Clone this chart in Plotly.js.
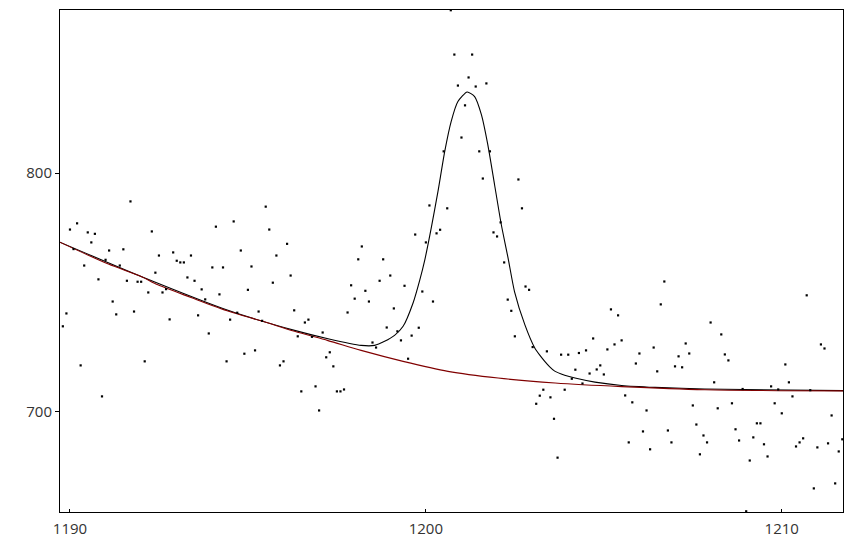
<!DOCTYPE html>
<html>
<head>
<meta charset="utf-8">
<script src="https://cdn.plot.ly/plotly-3.0.1.min.js"></script>
<style>html,body{margin:0;padding:0;background:#fff;}#chart{width:853px;height:540px;}</style>
</head>
<body>
<div id="chart"></div>
<script>
// Measured spectrum points (x, counts)
const xs = [
1189.7,1189.8,1189.9,1190.0,1190.1,1190.2,1190.3,1190.4,1190.5,1190.6,
1190.7,1190.8,1190.9,1191.0,1191.1,1191.2,1191.3,1191.4,1191.5,1191.6,
1191.7,1191.8,1191.9,1192.0,1192.1,1192.2,1192.3,1192.4,1192.5,1192.6,
1192.7,1192.8,1192.9,1193.0,1193.1,1193.2,1193.3,1193.4,1193.5,1193.6,
1193.7,1193.8,1193.9,1194.0,1194.1,1194.2,1194.3,1194.4,1194.5,1194.6,
1194.7,1194.8,1194.9,1195.0,1195.1,1195.2,1195.3,1195.4,1195.5,1195.6,
1195.7,1195.8,1195.9,1196.0,1196.1,1196.2,1196.3,1196.4,1196.5,1196.6,
1196.7,1196.8,1196.9,1197.0,1197.1,1197.2,1197.3,1197.4,1197.5,1197.6,
1197.7,1197.8,1197.9,1198.0,1198.1,1198.2,1198.3,1198.4,1198.5,1198.6,
1198.7,1198.8,1198.9,1199.0,1199.1,1199.2,1199.3,1199.4,1199.5,1199.6,
1199.7,1199.8,1199.9,1200.0,1200.1,1200.2,1200.3,1200.4,1200.5,1200.6,
1200.7,1200.8,1200.9,1201.0,1201.1,1201.2,1201.3,1201.4,1201.5,1201.6,
1201.7,1201.8,1201.9,1202.0,1202.1,1202.2,1202.3,1202.4,1202.5,1202.6,
1202.7,1202.8,1202.9,1203.0,1203.1,1203.2,1203.3,1203.4,1203.5,1203.6,
1203.7,1203.8,1203.9,1204.0,1204.1,1204.2,1204.3,1204.4,1204.5,1204.6,
1204.7,1204.8,1204.9,1205.0,1205.1,1205.2,1205.3,1205.4,1205.5,1205.6,
1205.7,1205.8,1205.9,1206.0,1206.1,1206.2,1206.3,1206.4,1206.5,1206.6,
1206.7,1206.8,1206.9,1207.0,1207.1,1207.2,1207.3,1207.4,1207.5,1207.6,
1207.7,1207.8,1207.9,1208.0,1208.1,1208.2,1208.3,1208.4,1208.5,1208.6,
1208.7,1208.8,1208.9,1209.0,1209.1,1209.2,1209.3,1209.4,1209.5,1209.6,
1209.7,1209.8,1209.9,1210.0,1210.1,1210.2,1210.3,1210.4,1210.5,1210.6,
1210.7,1210.8,1210.9,1211.0,1211.1,1211.2,1211.3,1211.4,1211.5,1211.6,
1211.7
];
const ys = [
727.7,735.7,741.1,776.3,768.1,778.9,719.3,761.2,775.1,770.9,
774.5,755.4,706.3,763.6,767.5,746.1,740.7,761.2,768.0,754.8,
788.1,741.9,754.4,754.4,721.0,749.9,775.5,758.2,765.4,749.9,
751.3,738.6,766.7,763.2,762.5,762.5,756.2,765.4,754.8,740.3,
751.2,747.0,732.7,760.4,777.5,749.1,760.4,721.0,738.5,779.7,
741.4,767.5,724.2,751.0,760.8,725.6,741.9,738.0,785.9,776.3,
754.0,765.4,719.3,721.0,770.3,757.0,742.4,731.5,708.4,737.3,
738.5,731.3,710.5,700.4,733.1,722.7,724.8,718.9,708.4,708.4,
709.2,741.5,752.9,747.3,763.8,769.2,750.6,746.1,728.9,726.8,
754.8,763.8,735.2,757.0,743.2,733.6,729.8,752.7,722.1,731.8,
774.2,735.1,750.3,770.9,786.4,746.1,774.7,776.2,809.1,785.2,
868.3,849.7,836.7,814.9,828.4,840.1,849.7,836.3,809.1,797.7,
837.6,809.1,775.1,773.4,779.3,762.5,746.9,742.2,731.5,797.3,
785.2,752.4,751.0,727.0,703.2,706.6,709.1,725.2,705.9,696.9,
680.6,723.8,709.1,723.8,713.7,717.5,724.5,711.7,725.6,715.9,
730.6,717.6,719.3,715.5,726.0,742.8,728.1,740.3,729.8,706.7,
687.0,703.8,720.1,724.3,691.6,700.4,684.1,726.8,716.8,744.9,
754.5,692.0,687.0,718.9,723.1,718.5,728.5,724.3,702.5,694.5,
682.0,689.9,687.0,737.3,712.2,701.3,732.3,723.9,721.4,703.4,
692.5,687.8,709.4,658.1,679.4,689.1,695.0,695.0,686.2,681.1,
710.5,703.4,709.2,699.2,719.7,712.2,706.3,685.3,687.0,688.7,
748.7,708.9,667.7,684.9,728.1,726.4,686.6,698.3,669.8,683.2,
688.3
];

// Background (baseline) curve
const baseX = [1189.70,1191.08,1192.00,1192.47,1193.40,1194.48,1195.37,1196.31,1197.25,1198.18,1199.36,1200.62,1202.03,1203.63,1205.50,1207.84,1211.73];
const baseY = [771.1,761.8,756.6,753.1,747.8,741.9,738.0,733.6,729.7,725.6,721.0,716.8,714.0,711.9,710.4,709.1,708.6];

// Fitted curve (baseline + peak)
const fitX = [1189.70,1192.00,1194.48,1196.31,1197.25,1198.18,1198.56,1198.84,1199.12,1199.36,1199.64,1199.83,1199.97,1200.15,1200.34,1200.53,1200.71,1200.90,1201.16,1201.37,1201.56,1201.74,1201.93,1202.12,1202.31,1202.49,1202.78,1203.06,1203.20,1203.34,1203.48,1203.62,1203.90,1204.19,1204.75,1205.50,1206.44,1207.84,1211.73];
const fitY = [771.1,756.6,742.2,734.0,730.5,727.7,727.7,729.4,731.9,735.7,745.5,755.2,763.6,776.9,792.3,809.1,821.6,830.0,834.0,832.1,824.5,811.9,795.1,778.3,764.3,750.3,736.4,726.6,723.6,721.0,718.7,716.9,715.2,714.0,712.3,710.9,710.1,709.4,708.7];

const xTicks = [1190, 1200, 1210];
const yTicks = [700, 800];

const traces = [
  {x: fitX, y: fitY, type: 'scatter', mode: 'lines',
   line: {color: '#000000', width: 1.1, shape: 'spline', smoothing: 0.6}, hoverinfo: 'skip'},
  {x: baseX, y: baseY, type: 'scatter', mode: 'lines',
   line: {color: '#800000', width: 1.1, shape: 'spline', smoothing: 0.8}, hoverinfo: 'skip'},
  {x: xs, y: ys, type: 'scatter', mode: 'markers', cliponaxis: false,
   marker: {symbol: 'square', size: 2.2, color: '#000000', line: {width: 0}}}
];

const tickFont = {family: '"Open Sans", "Noto Sans", sans-serif', size: 15, color: '#333333'};

const layout = {
  width: 853, height: 540,
  margin: {l: 60, r: 10, t: 10, b: 28, pad: 0},
  paper_bgcolor: '#ffffff', plot_bgcolor: '#ffffff',
  showlegend: false,
  xaxis: {
    range: [1189.72, 1211.72], tickvals: xTicks, ticktext: xTicks.map(String),
    ticks: 'inside', ticklen: 3, tickcolor: '#000', tickwidth: 1,
    showline: true, mirror: true, linecolor: '#000', linewidth: 1,
    showgrid: false, zeroline: false, tickfont: tickFont, ticklabelstandoff: 3
  },
  yaxis: {
    range: [657.8, 868.4], tickvals: yTicks, ticktext: yTicks.map(String),
    ticks: 'outside', ticklen: 4, tickcolor: '#000', tickwidth: 1,
    showline: true, mirror: true, linecolor: '#000', linewidth: 1,
    showgrid: false, zeroline: false, tickfont: tickFont
  }
};

Plotly.newPlot('chart', traces, layout, {displayModeBar: false, staticPlot: true});
</script>
</body>
</html>
